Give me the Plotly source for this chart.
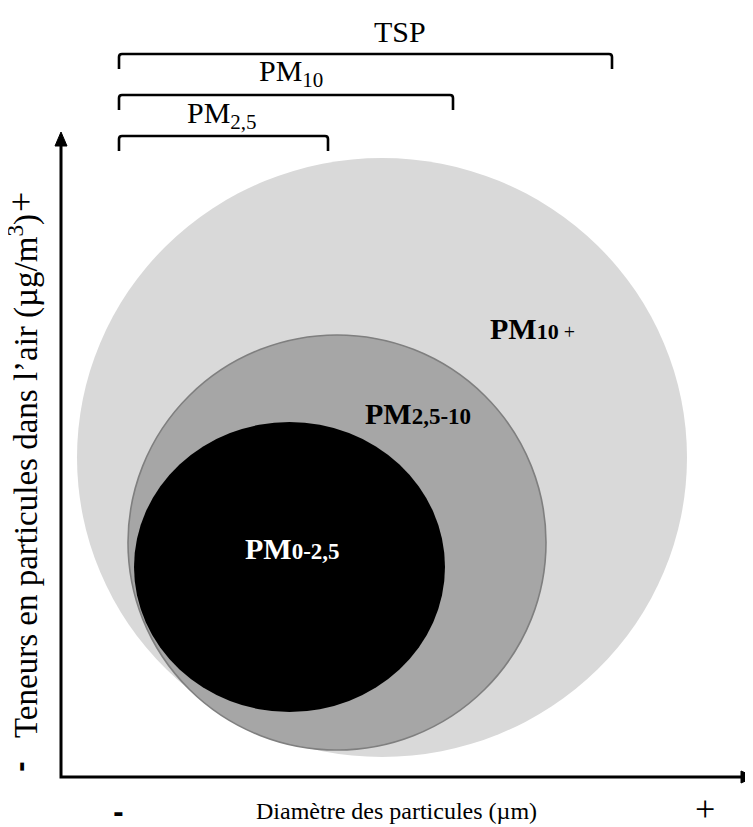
import plotly.graph_objects as go

# ---- data (diagram units: x = particle diameter, y = concentration) ----
fractions = ["PM10 +", "PM2,5-10", "PM0-2,5"]
diam_lo = [16, 67, 73]
diam_hi = [626, 485, 384]
conc_lo = [20, 27, 65]
conc_hi = [619, 442, 355]

classes = ["TSP", "PM<sub>10</sub>", "PM<sub>2,5</sub>"]
class_lo = [58, 58, 58]
class_hi = [551, 392, 267]

x_title = "Diamètre des particules (µm)"
y_title = "Teneurs en particules dans l’air (µg/m<sup>3</sup>)"

# ---- styles ----
fills = ["#d9d9d9", "#a6a6a6", "#000000"]
outlines = [None, "#7f7f7f", None]
SERIF = "Liberation Serif, Times New Roman, serif"

fig = go.Figure()
fig.add_trace(go.Scatter(x=[0], y=[0], mode="markers", marker=dict(opacity=0),
                         hoverinfo="skip", showlegend=False))

shapes = []
for i, name in enumerate(fractions):
    line = dict(width=0) if outlines[i] is None else dict(color=outlines[i], width=1.6)
    shapes.append(dict(type="circle", xref="x", yref="y",
                       x0=diam_lo[i], x1=diam_hi[i], y0=conc_lo[i], y1=conc_hi[i],
                       fillcolor=fills[i], line=line, layer="below"))

# brackets
top_level = 723
step = 41
tick = 15
r = 3
for i, c in enumerate(classes):
    yb = top_level - i * step
    x0, x1 = class_lo[i], class_hi[i]
    path = (f"M{x0},{yb - tick} L{x0},{yb - r} Q{x0},{yb} {x0 + r},{yb} "
            f"L{x1 - r},{yb} Q{x1},{yb} {x1},{yb - r} L{x1},{yb - tick}")
    shapes.append(dict(type="path", path=path, xref="x", yref="y",
                       line=dict(color="black", width=2.6)))

# axes with arrowheads
y_tip, x_tip, head, half = 645, 694, 14, 6
shapes.append(dict(type="path", xref="x", yref="y",
                   path=f"M0,{y_tip - head + 1} L0,0 L{x_tip - head + 1},0",
                   line=dict(color="black", width=3)))
shapes.append(dict(type="path", xref="x", yref="y",
                   path=f"M{-half},{y_tip - head} L{half},{y_tip - head} L0,{y_tip} Z",
                   fillcolor="black", line=dict(color="black", width=1)))
shapes.append(dict(type="path", xref="x", yref="y",
                   path=f"M{x_tip - head},{-half} L{x_tip - head},{half} L{x_tip},0 Z",
                   fillcolor="black", line=dict(color="black", width=1)))

annotations = []
# bracket labels
label_pos = [(339, 746), (230, 704), (161, 662)]
for i, c in enumerate(classes):
    annotations.append(dict(x=label_pos[i][0], y=label_pos[i][1], xref="x", yref="y",
                            text=c, showarrow=False, xanchor="center", yanchor="middle",
                            font=dict(family=SERIF, size=30, color="black")))

# fraction labels
annotations.append(dict(x=427, y=449, xref="x", yref="y", showarrow=False,
                        xanchor="left", yanchor="middle",
                        text="<b>PM<span style='font-size:22px'>10</span></b><span style='font-size:20px'> +</span>",
                        font=dict(family=SERIF, size=30, color="black")))
annotations.append(dict(x=302, y=364, xref="x", yref="y", showarrow=False,
                        xanchor="left", yanchor="middle",
                        text="<b>PM<span style='font-size:23px'>2,5-10</span></b>",
                        font=dict(family=SERIF, size=30, color="black")))
annotations.append(dict(x=182, y=229, xref="x", yref="y", showarrow=False,
                        xanchor="left", yanchor="middle",
                        text="<b>PM<span style='font-size:23px'>0-2,5</span></b>",
                        font=dict(family=SERIF, size=30, color="white")))

# axis titles
annotations.append(dict(x=335, y=-34, xref="x", yref="y", showarrow=False,
                        text=x_title, font=dict(family=SERIF, size=24, color="black")))
annotations.append(dict(x=57, y=-36, xref="x", yref="y", showarrow=False,
                        text="<b>-</b>", font=dict(family="DejaVu Sans", size=26, color="black")))
annotations.append(dict(x=644, y=-32, xref="x", yref="y", showarrow=False,
                        text="+", font=dict(family=SERIF, size=36, color="black")))

annotations.append(dict(x=-38, y=301, xref="x", yref="y", showarrow=False, textangle=-90,
                        text=y_title, font=dict(family=SERIF, size=33, color="black")))
annotations.append(dict(x=-40, y=10, xref="x", yref="y", showarrow=False, textangle=-90,
                        text="<b>-</b>", font=dict(family="DejaVu Sans", size=26, color="black")))
annotations.append(dict(x=-40, y=575, xref="x", yref="y", showarrow=False, textangle=-90,
                        text="+", font=dict(family=SERIF, size=36, color="black")))

# the page body has an 8px margin: size and ranges compensate so 1 unit = 1 px
fig.update_layout(
    width=745, height=819, autosize=False,
    margin=dict(l=0, r=0, t=0, b=0),
    paper_bgcolor="white", plot_bgcolor="white",
    xaxis=dict(range=[-53, 692], visible=False, fixedrange=True),
    yaxis=dict(range=[-50, 769], visible=False, fixedrange=True),
    shapes=shapes, annotations=annotations, showlegend=False,
)

fig.write_html("out.html")
